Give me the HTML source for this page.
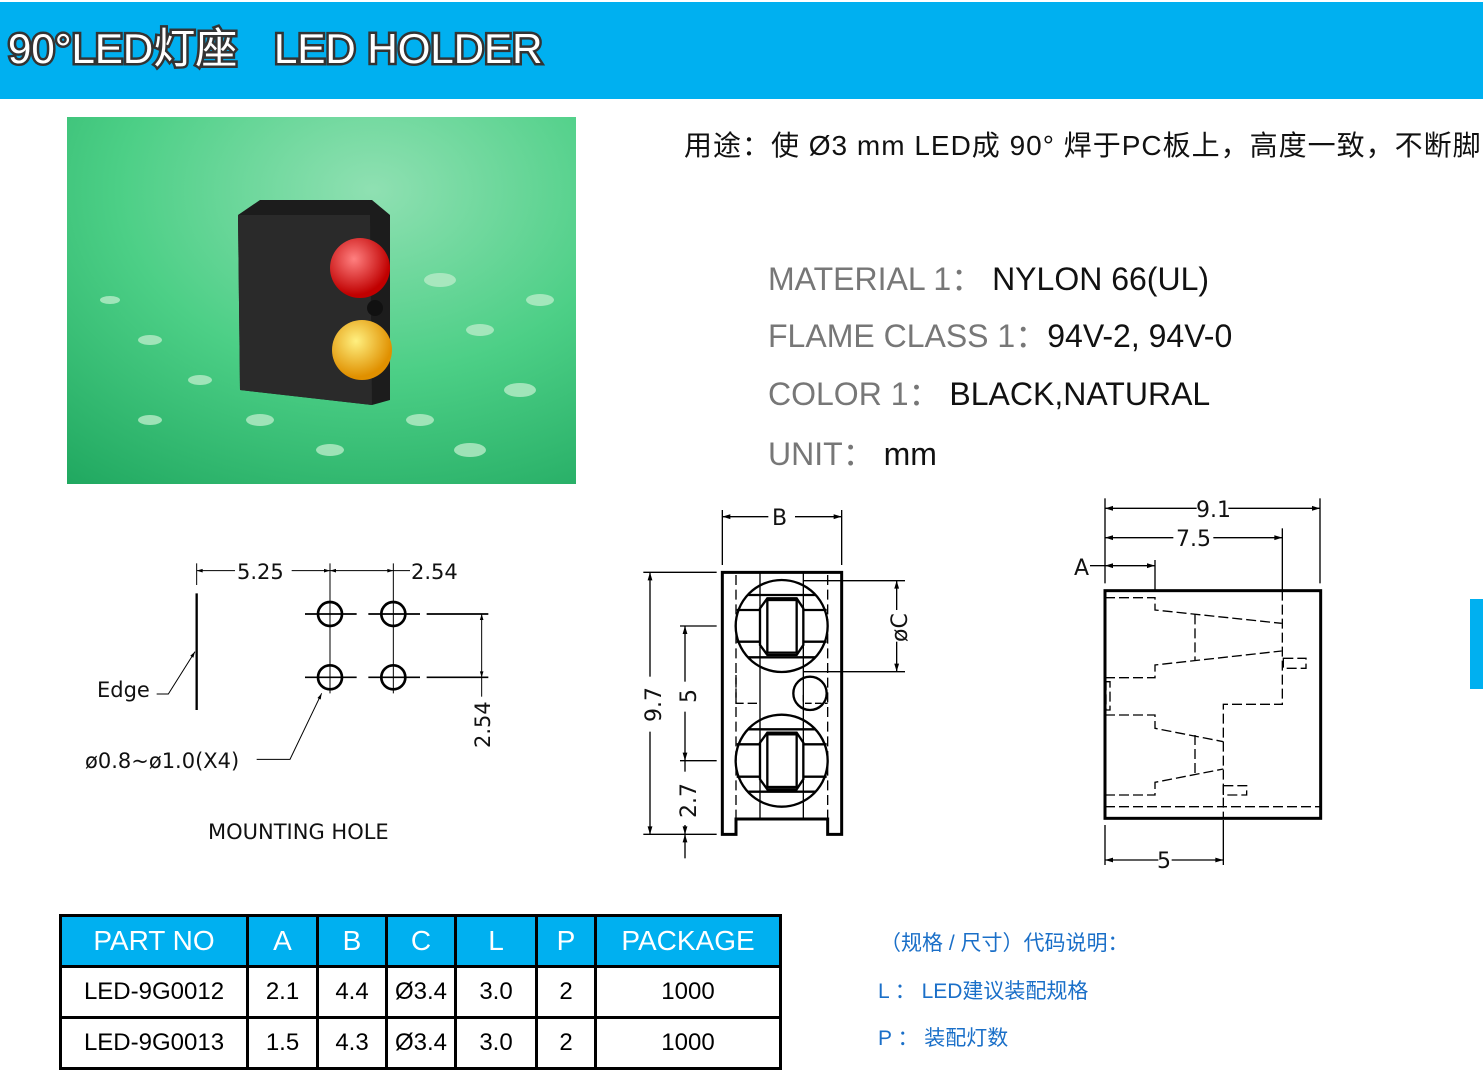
<!DOCTYPE html>
<html><head><meta charset="utf-8"><style>
*{margin:0;padding:0}
body{width:1483px;height:1079px;background:#fff;position:relative;overflow:hidden;font-family:"Liberation Sans","Noto Sans CJK SC",sans-serif}
.hdr{position:absolute;left:0;top:2px;width:1483px;height:97px;background:#00b0f0}
.t{position:absolute;white-space:nowrap}
table{position:absolute;left:59px;top:914px;border-collapse:collapse;font-family:"Liberation Sans",sans-serif;table-layout:fixed;width:720px}
td{border:3px solid #000;text-align:center;font-size:24px;height:48px;padding:0}
tr.h td{background:#00b0f0;color:#fff;font-size:28px;border-color:#000}
</style></head><body>
<div class="hdr"></div>
<svg style="position:absolute;left:0;top:0" width="1483" height="1079">
<text x="8" y="63" font-size="42" font-family="Liberation Sans,Noto Sans CJK SC,sans-serif" fill="#fff" stroke="#333" stroke-width="5" paint-order="stroke">90°LED灯座</text>
<text x="274" y="63" font-size="42" font-family="Liberation Sans,sans-serif" fill="#fff" stroke="#333" stroke-width="5" paint-order="stroke">LED HOLDER</text>
<defs>
<radialGradient id="bg" cx="0.6" cy="0.2" r="1"><stop offset="0" stop-color="#8fe0b2"/><stop offset="0.5" stop-color="#4ccf86"/><stop offset="1" stop-color="#20a860"/></radialGradient>
<radialGradient id="rd" cx="0.4" cy="0.35" r="0.6"><stop offset="0" stop-color="#ff8080"/><stop offset="1" stop-color="#c00000"/></radialGradient>
<radialGradient id="yl" cx="0.4" cy="0.35" r="0.6"><stop offset="0" stop-color="#fff080"/><stop offset="1" stop-color="#e09000"/></radialGradient>
<marker id="ar" viewBox="0 0 10 10" refX="10" refY="5" markerWidth="8" markerHeight="6" orient="auto-start-reverse"><path d="M0,2L10,5L0,8z" fill="#000"/></marker>
</defs>
<rect x="67" y="117" width="509" height="367" fill="url(#bg)"/>
<g fill="#b8ecc8" opacity="0.8">
<ellipse cx="440" cy="280" rx="16" ry="7"/><ellipse cx="480" cy="330" rx="14" ry="6"/><ellipse cx="520" cy="390" rx="16" ry="7"/><ellipse cx="420" cy="420" rx="14" ry="6"/><ellipse cx="470" cy="450" rx="16" ry="7"/><ellipse cx="200" cy="380" rx="12" ry="5"/><ellipse cx="150" cy="340" rx="12" ry="5"/><ellipse cx="110" cy="300" rx="10" ry="4"/><ellipse cx="260" cy="420" rx="14" ry="6"/><ellipse cx="330" cy="450" rx="14" ry="6"/><ellipse cx="540" cy="300" rx="14" ry="6"/><ellipse cx="150" cy="420" rx="12" ry="5"/></g>
<path d="M238,215 L260,200 L372,200 L390,215 L390,400 L372,405 L240,390 Z" fill="#1c1c1c"/>
<path d="M238,215 L370,215 L372,405 L240,390Z" fill="#2a2a2a"/>
<circle cx="360" cy="268" r="30" fill="url(#rd)"/>
<circle cx="362" cy="350" r="30" fill="url(#yl)"/>
<circle cx="375" cy="308" r="8" fill="#111"/>
<rect x="1470" y="599" width="13" height="90" fill="#00b0f0"/>
<g transform="translate(80,550) scale(0.33333)" fill="none" stroke="#000" stroke-width="3">
<line x1="350" y1="40" x2="350" y2="105"/>
<line x1="350" y1="130" x2="350" y2="480" stroke-width="7"/>
<line x1="350" y1="62" x2="465" y2="62" marker-start="url(#ar)"/>
<line x1="635" y1="62" x2="750" y2="62" marker-end="url(#ar)"/>
<line x1="750" y1="62" x2="940" y2="62" marker-start="url(#ar)" marker-end="url(#ar)"/>
<line x1="940" y1="62" x2="990" y2="62"/>
<line x1="750" y1="40" x2="750" y2="430"/>
<line x1="940" y1="40" x2="940" y2="430"/>
<g stroke-width="8"><circle cx="750" cy="192" r="36"/><circle cx="940" cy="192" r="36"/><circle cx="750" cy="382" r="36"/><circle cx="940" cy="382" r="36"/></g>
<line x1="675" y1="192" x2="830" y2="192" stroke-width="5"/><line x1="865" y1="192" x2="1020" y2="192" stroke-width="5"/>
<line x1="675" y1="382" x2="830" y2="382" stroke-width="5"/><line x1="865" y1="382" x2="1020" y2="382" stroke-width="5"/>
<line x1="1040" y1="192" x2="1225" y2="192" stroke-width="5"/><line x1="1040" y1="382" x2="1225" y2="382" stroke-width="5"/>
<line x1="1205" y1="192" x2="1205" y2="382" marker-start="url(#ar)" marker-end="url(#ar)"/>
<line x1="1205" y1="382" x2="1205" y2="440"/>
<polyline points="230,432 265,432 345,305" marker-end="url(#ar)"/>
<polyline points="530,628 630,628 725,430" marker-end="url(#ar)"/>
</g>
<g font-family="DejaVu Sans,sans-serif" font-size="21" fill="#111">
<text x="237" y="579">5.25</text><text x="411" y="579">2.54</text>
<text x="97" y="697">Edge</text>
<text x="85" y="768">ø0.8~ø1.0(X4)</text>
<text x="208" y="839">MOUNTING  HOLE</text>
<text transform="translate(490,748) rotate(-90)">2.54</text>
</g>
<g transform="translate(630,495) scale(0.33333)" fill="none" stroke="#000" stroke-width="4">
<path d="M277,232 H635 V1018 H593 V972 H318 V1018 H277 Z" stroke-width="9"/>
<line x1="318" y1="240" x2="318" y2="970" stroke-dasharray="30,14"/>
<line x1="593" y1="240" x2="593" y2="970" stroke-dasharray="30,14"/>
<line x1="390" y1="235" x2="390" y2="972"/><line x1="520" y1="235" x2="520" y2="972"/>
<path d="M318,540 V625 H390" stroke-dasharray="28,12"/><path d="M520,600 V625 H593" stroke-dasharray="20,10"/>
<g stroke-width="7">
<circle cx="455" cy="393" r="138"/><circle cx="455" cy="797" r="138"/>
<circle cx="540" cy="595" r="50"/>
<rect x="412" y="315" width="88" height="158"/><rect x="412" y="718" width="88" height="158"/>
<path d="M390,340 L412,310 H500 L520,340 V450 L500,480 H412 L390,450 Z"/>
<path d="M390,743 L412,713 H500 L520,743 V853 L500,883 H412 L390,853 Z"/>
<line x1="355" y1="300" x2="555" y2="300"/><line x1="355" y1="487" x2="555" y2="487"/>
<line x1="320" y1="345" x2="390" y2="345"/><line x1="520" y1="345" x2="590" y2="345"/>
<line x1="320" y1="440" x2="390" y2="440"/><line x1="520" y1="440" x2="590" y2="440"/>
<line x1="355" y1="703" x2="555" y2="703"/><line x1="355" y1="890" x2="555" y2="890"/>
<line x1="320" y1="748" x2="390" y2="748"/><line x1="520" y1="748" x2="590" y2="748"/>
<line x1="320" y1="845" x2="390" y2="845"/><line x1="520" y1="845" x2="590" y2="845"/>
</g>
<line x1="277" y1="45" x2="277" y2="210"/><line x1="635" y1="45" x2="635" y2="210"/>
<line x1="277" y1="65" x2="415" y2="65" marker-start="url(#ar)"/><line x1="495" y1="65" x2="635" y2="65" marker-end="url(#ar)"/>
<line x1="40" y1="232" x2="260" y2="232"/><line x1="40" y1="1018" x2="260" y2="1018"/>
<line x1="60" y1="232" x2="60" y2="545" marker-start="url(#ar)"/><line x1="60" y1="710" x2="60" y2="1018" marker-end="url(#ar)"/>
<line x1="150" y1="393" x2="260" y2="393"/><line x1="150" y1="797" x2="260" y2="797"/>
<line x1="165" y1="393" x2="165" y2="560" marker-start="url(#ar)"/><line x1="165" y1="650" x2="165" y2="797" marker-end="url(#ar)"/>
<line x1="165" y1="797" x2="165" y2="830"/><line x1="165" y1="990" x2="165" y2="1018" marker-end="url(#ar)"/>
<line x1="165" y1="1018" x2="165" y2="1090" marker-start="url(#ar)"/>
<line x1="520" y1="257" x2="825" y2="257"/><line x1="520" y1="530" x2="825" y2="530"/>
<line x1="800" y1="257" x2="800" y2="345" marker-start="url(#ar)"/><line x1="800" y1="440" x2="800" y2="530" marker-end="url(#ar)"/>
</g>
<g font-family="DejaVu Sans,sans-serif" font-size="22" fill="#111">
<text x="772" y="525">B</text>
<text transform="translate(661,722) rotate(-90)">9.7</text>
<text transform="translate(696,703) rotate(-90)">5</text>
<text transform="translate(696,818) rotate(-90)">2.7</text>
<text transform="translate(907,642) rotate(-90)">øC</text>
</g>
<g transform="translate(1070,495) scale(0.33333)" fill="none" stroke="#000" stroke-width="4">
<rect x="105" y="287" width="647" height="683" stroke-width="9"/>
<line x1="105" y1="10" x2="105" y2="265"/><line x1="750" y1="10" x2="750" y2="265"/>
<line x1="637" y1="100" x2="637" y2="287"/><line x1="255" y1="195" x2="255" y2="287"/>
<line x1="105" y1="40" x2="380" y2="40" marker-start="url(#ar)"/><line x1="475" y1="40" x2="750" y2="40" marker-end="url(#ar)"/>
<line x1="105" y1="128" x2="310" y2="128" marker-start="url(#ar)"/><line x1="430" y1="128" x2="637" y2="128" marker-end="url(#ar)"/>
<line x1="60" y1="212" x2="105" y2="212"/><line x1="105" y1="212" x2="255" y2="212" marker-start="url(#ar)" marker-end="url(#ar)"/>
<line x1="105" y1="990" x2="105" y2="1110"/><line x1="460" y1="975" x2="460" y2="1110"/>
<line x1="105" y1="1095" x2="265" y2="1095" marker-start="url(#ar)"/><line x1="305" y1="1095" x2="460" y2="1095" marker-end="url(#ar)"/>
<g stroke-dasharray="30,12">
<polyline points="105,308 255,308 255,345 635,385"/>
<line x1="375" y1="358" x2="375" y2="495"/>
<polyline points="105,548 255,548 255,510 635,468"/>
<polyline points="637,287 637,628 460,628 460,970"/>
<rect x="640" y="490" width="68" height="30"/>
<rect x="108" y="560" width="12" height="85"/>
<polyline points="105,660 255,660 255,700 460,740"/>
<line x1="375" y1="720" x2="375" y2="835"/>
<polyline points="105,900 255,900 255,862 460,822"/>
<rect x="460" y="872" width="70" height="28"/>
<line x1="105" y1="935" x2="752" y2="935"/>
</g>
</g>
<g font-family="DejaVu Sans,sans-serif" font-size="22" fill="#111">
<text x="1196" y="517">9.1</text><text x="1176" y="546">7.5</text><text x="1074" y="575">A</text><text x="1157" y="868">5</text>
</g>
</svg>
<div class="t" style="left:684px;top:124px;font-size:28px;color:#111;letter-spacing:1px">用途：使 Ø3 mm LED成 90° 焊于PC板上，高度一致，不断脚</div>
<div class="t" style="left:768px;top:254px;font-size:32px;color:#777">MATERIAL 1：<span style="color:#111">&nbsp;NYLON 66(UL)</span></div>
<div class="t" style="left:768px;top:311px;font-size:32px;color:#777">FLAME CLASS 1：<span style="color:#111">94V-2, 94V-0</span></div>
<div class="t" style="left:768px;top:369px;font-size:32px;color:#777">COLOR 1：<span style="color:#111">&nbsp;BLACK,NATURAL</span></div>
<div class="t" style="left:768px;top:429px;font-size:32px;color:#777">UNIT：<span style="color:#111">&nbsp;mm</span></div>
<div class="t" style="left:880px;top:927px;font-size:21px;color:#1a6fc8">（规格 / 尺寸）代码说明：</div>
<div class="t" style="left:878px;top:975px;font-size:21px;color:#1a6fc8">L ： LED建议装配规格</div>
<div class="t" style="left:878px;top:1022px;font-size:21px;color:#1a6fc8">P ： 装配灯数</div>
<table>
<colgroup><col style="width:187px"><col style="width:70px"><col style="width:69px"><col style="width:69px"><col style="width:81px"><col style="width:59px"><col style="width:185px"></colgroup>
<tr class="h"><td>PART NO</td><td>A</td><td>B</td><td>C</td><td>L</td><td>P</td><td>PACKAGE</td></tr>
<tr><td>LED-9G0012</td><td>2.1</td><td>4.4</td><td>Ø3.4</td><td>3.0</td><td>2</td><td>1000</td></tr>
<tr><td>LED-9G0013</td><td>1.5</td><td>4.3</td><td>Ø3.4</td><td>3.0</td><td>2</td><td>1000</td></tr>
</table>
</body></html>
